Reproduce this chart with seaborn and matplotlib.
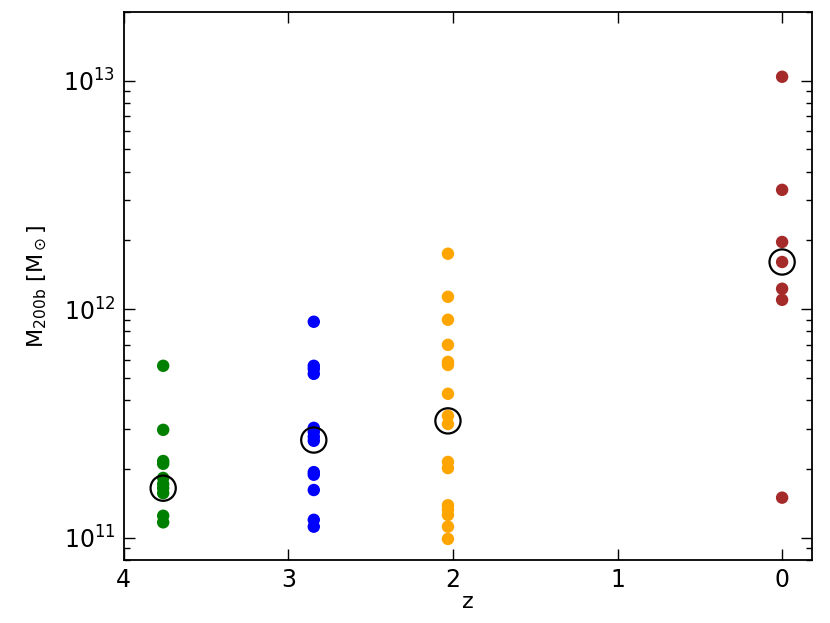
import numpy as np
import pandas as pd
import matplotlib
matplotlib.use("Agg")
import matplotlib.pyplot as plt
import seaborn as sns

# ---- halo masses per redshift snapshot ----
z_snap = [3.76, 2.845, 2.03, 0.0]
colors = ["green", "blue", "orange", "brown"]

mass_z376 = [5.66e11, 2.97e11, 2.17e11, 2.11e11, 1.83e11, 1.72e11,
             1.65e11, 1.57e11, 1.25e11, 1.17e11]
mass_z285 = [8.82e11, 5.66e11, 5.49e11, 5.22e11, 3.03e11, 2.91e11, 2.77e11,
             2.66e11, 1.94e11, 1.89e11, 1.62e11, 1.20e11, 1.12e11]
mass_z203 = [1.75e12, 1.134e12, 9.0e11, 6.99e11, 5.89e11, 5.71e11, 4.27e11,
             3.42e11, 3.15e11, 2.15e11, 2.02e11, 1.39e11, 1.33e11, 1.26e11,
             1.12e11, 9.9e10]
mass_z0 = [1.04e13, 3.33e12, 1.97e12, 1.61e12, 1.23e12, 1.10e12, 1.50e11]

# highlighted (circled) halo at each snapshot
marked_mass = [1.65e11, 2.68e11, 3.25e11, 1.61e12]

all_masses = [mass_z376, mass_z285, mass_z203, mass_z0]
rows = []
for z, masses in zip(z_snap, all_masses):
    for m in masses:
        rows.append({"z": z, "mass": m, "snap": str(z)})
df = pd.DataFrame(rows)
marked = pd.DataFrame({"z": z_snap, "mass": marked_mass})

sns.set_style("ticks")
plt.rcParams["font.family"] = ["DejaVu Sans"]
plt.rcParams["mathtext.fontset"] = "dejavusans"
plt.rcParams["text.color"] = "black"
plt.rcParams["axes.labelcolor"] = "black"
plt.rcParams["xtick.color"] = "black"
plt.rcParams["ytick.color"] = "black"

fig = plt.figure(figsize=(8.3, 6.23), dpi=100)
ax = fig.add_axes([0.149, 0.101, 0.829, 0.880])

sns.scatterplot(data=df, x="z", y="mass", hue="snap",
                palette=dict(zip([str(z) for z in z_snap], colors)),
                s=80, linewidth=0, legend=False, ax=ax, zorder=2)
sns.scatterplot(data=marked, x="z", y="mass", s=330, facecolor="none",
                edgecolor="black", linewidth=1.6, legend=False, ax=ax, zorder=3)

ax.set_yscale("log")
ax.set_xlim(4, -0.18)
ax.set_ylim(8e10, 2e13)
ax.set_xticks([4, 3, 2, 1, 0])
ax.set_xlabel("z", fontsize=16, labelpad=0)
ax.set_ylabel(r"$\mathrm{M_{200b}\ [M_\odot]}$", fontsize=16, labelpad=10)

ax.tick_params(which="both", direction="in", top=True, right=True,
               labelsize=17, width=1.0, colors="black")
ax.tick_params(which="major", length=8, pad=6)
ax.tick_params(which="minor", length=4)
for spine in ax.spines.values():
    spine.set_linewidth(1.3)
    spine.set_color("black")

fig.savefig("out.png", dpi=100)
